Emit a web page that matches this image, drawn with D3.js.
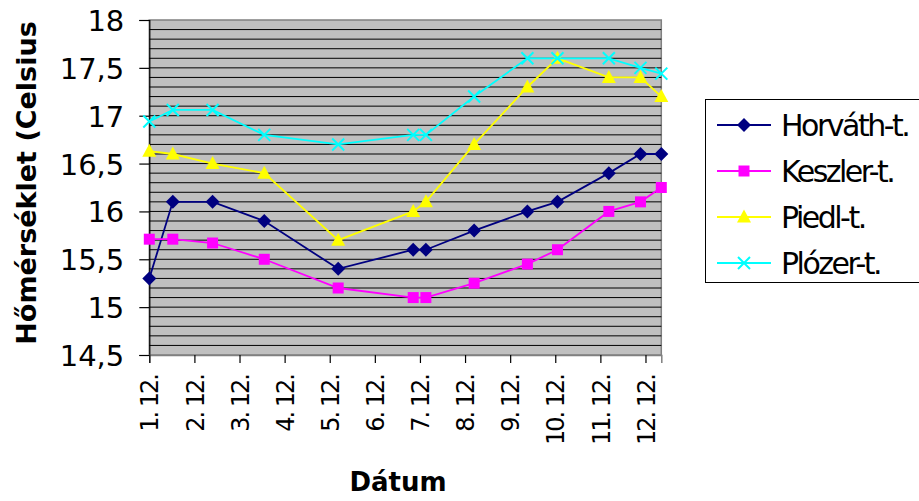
<!DOCTYPE html>
<html>
<head>
<meta charset="utf-8">
<script src="https://cdn.jsdelivr.net/npm/d3@7"></script>
<style>
  body { margin: 0; background: #fff; }
  text { font-family: "DejaVu Sans", sans-serif; fill: #000; }
</style>
</head>
<body>
<svg id="chart" width="919" height="501"></svg>
<script>
// measurement times (Dec 2008) and readings per plot
var dates = [
  "2008-12-01T00:00", "2008-12-01T12:30", "2008-12-02T09:40", "2008-12-03T13:10",
  "2008-12-05T04:30", "2008-12-06T20:25", "2008-12-07T03:10", "2008-12-08T04:50",
  "2008-12-09T09:10", "2008-12-10T01:10", "2008-12-11T04:30", "2008-12-11T21:20",
  "2008-12-12T08:25"
];
var horvath = [15.3, 16.1, 16.1, 15.9, 15.4, 15.6, 15.6, 15.8, 16.0, 16.1, 16.4, 16.6, 16.6];
var keszler = [15.71, 15.71, 15.67, 15.5, 15.2, 15.1, 15.1, 15.25, 15.45, 15.6, 16.0, 16.1, 16.25];
var piedl   = [16.63, 16.6, 16.5, 16.4, 15.7, 16.0, 16.1, 16.7, 17.3, 17.6, 17.4, 17.4, 17.2];
var plozer  = [16.94, 17.06, 17.06, 16.8, 16.7, 16.8, 16.8, 17.2, 17.6, 17.6, 17.6, 17.5, 17.44];

var seriesNames = ["Horváth-t.", "Keszler-t.", "Piedl-t.", "Plózer-t."];
var yTicks = [14.5, 15, 15.5, 16, 16.5, 17, 17.5, 18];
var yTitle = "Hőmérséklet (Celsius";
var xTitle = "Dátum";

var colors = ["#000080", "#ff00ff", "#ffff00", "#00ffff"];
var shapes = ["diamond", "square", "triangle", "cross"];

var svg = d3.select("#chart");
var plotLeft = 149.3, plotRight = 661.3, plotTop = 20, plotBottom = 355;

var parse = d3.timeParse("%Y-%m-%dT%H:%M");
var times = dates.map(parse);

var x = d3.scaleTime().domain(d3.extent(times)).range([plotLeft, plotRight]);
var y = d3.scaleLinear().domain([14.5, 18]).range([plotBottom, plotTop]);

// plot area
svg.append("rect")
  .attr("x", plotLeft).attr("y", plotTop)
  .attr("width", plotRight - plotLeft).attr("height", plotBottom - plotTop)
  .attr("fill", "#c0c0c0")
  .attr("stroke", "#808080").attr("stroke-width", 1.5);

// minor gridlines every 0.1
var grid = d3.range(146, 180).map(function (v) { return v / 10; });
svg.append("g").selectAll("line")
  .data(grid)
  .enter().append("line")
  .attr("x1", plotLeft).attr("x2", plotRight)
  .attr("y1", function (d) { return y(d); })
  .attr("y2", function (d) { return y(d); })
  .attr("stroke", "#000").attr("stroke-width", 1);

// y axis
var yAxis = d3.axisLeft(y)
  .tickValues(yTicks)
  .tickSize(10)
  .tickPadding(15)
  .tickFormat(function (d) { return String(d).replace(".", ","); });

var gy = svg.append("g").attr("transform", "translate(" + plotLeft + ",0)").call(yAxis);
gy.select(".domain").attr("stroke", "#000").attr("stroke-width", 1.2);
gy.selectAll(".tick line").attr("stroke", "#000").attr("stroke-width", 1.2);
gy.selectAll(".tick text")
  .attr("font-family", "DejaVu Sans")
  .attr("font-size", 29)
  .attr("dy", "0.36em");

// x axis (days)
var xAxis = d3.axisBottom(x)
  .ticks(d3.timeDay.every(1))
  .tickSize(8)
  .tickFormat(d3.timeFormat("%-d. %m."));

var gx = svg.append("g").attr("transform", "translate(0," + plotBottom + ")").call(xAxis);
gx.select(".domain").attr("stroke", "#808080").attr("stroke-width", 1.5);
gx.selectAll(".tick line").attr("stroke", "#000").attr("stroke-width", 1.2);
gx.selectAll(".tick text")
  .attr("font-family", "DejaVu Sans")
  .attr("font-size", 24)
  .attr("letter-spacing", "-2px")
  .attr("text-anchor", "end")
  .attr("transform", "translate(0,20) rotate(-90)")
  .attr("x", 0).attr("y", 0)
  .attr("dy", "0.36em");

// series
var data = [horvath, keszler, piedl, plozer];

function markerPath(shape) {
  if (shape === "diamond") return "M0,-7L7,0L0,7L-7,0Z";
  if (shape === "square") return "M-5.5,-5.5H5.5V5.5H-5.5Z";
  if (shape === "triangle") return "M0,-7.5L7,5.5H-7Z";
  return "M-6,-6L6,6M-6,6L6,-6";
}

function drawMarker(g, shape, color) {
  var p = g.append("path").attr("d", markerPath(shape));
  if (shape === "cross") {
    p.attr("fill", "none").attr("stroke", color).attr("stroke-width", 2);
  } else {
    p.attr("fill", color);
  }
}

var line = d3.line()
  .x(function (d, i) { return x(times[i]); })
  .y(function (d) { return y(d); });

data.forEach(function (vals, s) {
  var g = svg.append("g");
  g.append("path")
    .attr("d", line(vals))
    .attr("fill", "none")
    .attr("stroke", colors[s])
    .attr("stroke-width", 1.8);
  vals.forEach(function (v, i) {
    var m = g.append("g").attr("transform", "translate(" + x(times[i]) + "," + y(v) + ")");
    drawMarker(m, shapes[s], colors[s]);
  });
});

// axis titles
svg.append("text")
  .attr("transform", "translate(36,183) rotate(-90)")
  .attr("text-anchor", "middle")
  .attr("font-size", 27)
  .attr("font-weight", "bold")
  .text(yTitle);

svg.append("text")
  .attr("x", 398).attr("y", 491)
  .attr("text-anchor", "middle")
  .attr("font-size", 26)
  .attr("font-weight", "bold")
  .text(xTitle);

// legend
var legend = svg.append("g");
legend.append("rect")
  .attr("x", 705.5).attr("y", 99.5)
  .attr("width", 230).attr("height", 183)
  .attr("fill", "#fff")
  .attr("stroke", "#000").attr("stroke-width", 1);

seriesNames.forEach(function (name, s) {
  var cy = 125 + s * 46;
  var row = legend.append("g").attr("transform", "translate(0," + cy + ")");
  row.append("line")
    .attr("x1", 717).attr("x2", 771)
    .attr("stroke", colors[s]).attr("stroke-width", 1.8);
  var m = row.append("g").attr("transform", "translate(744,0)");
  drawMarker(m, shapes[s], colors[s]);
  row.append("text")
    .attr("x", 781).attr("y", 11)
    .attr("font-size", 30)
    .attr("letter-spacing", "-2.5px")
    .text(name);
});
</script>
</body>
</html>
